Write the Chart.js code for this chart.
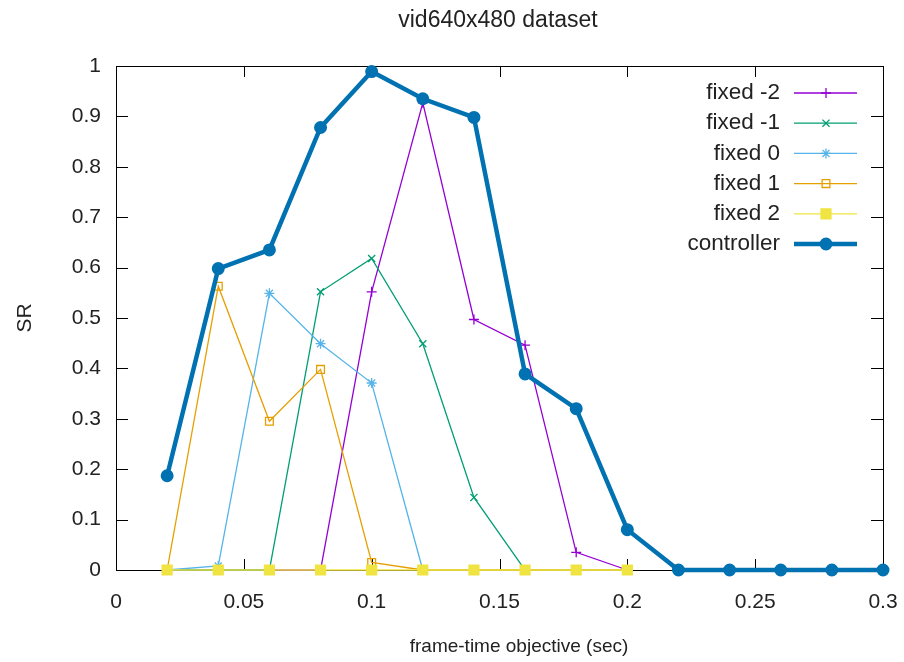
<!DOCTYPE html>
<html>
<head>
<meta charset="utf-8">
<script src="https://cdn.jsdelivr.net/npm/chart.js@4/dist/chart.umd.min.js"></script>
<style>
  html, body { margin: 0; padding: 0; background: #fff; }
  #wrap { width: 904px; height: 662px; }
</style>
</head>
<body>
<div id="wrap"><canvas id="grafico_sr" width="904" height="662"></canvas></div>
<script>
// frame-time objectives (sec)
const fixedX = [0.02, 0.04, 0.06, 0.08, 0.10, 0.12, 0.14, 0.16, 0.18, 0.20]
const ctrlX  = [0.02, 0.04, 0.06, 0.08, 0.10, 0.12, 0.14, 0.16, 0.18, 0.20, 0.22, 0.24, 0.26, 0.28, 0.30]

// success rate per configuration
const fixedM2 = [0, 0, 0, 0, 0.552, 0.927, 0.497, 0.446, 0.035, 0]
const fixedM1 = [0, 0, 0, 0.552, 0.618, 0.449, 0.144, 0, 0, 0]
const fixed0  = [0, 0.008, 0.549, 0.449, 0.371, 0, 0, 0, 0, 0]
const fixed1  = [0, 0.563, 0.295, 0.398, 0.015, 0, 0, 0, 0, 0]
const fixed2  = [0, 0, 0, 0, 0, 0, 0, 0, 0, 0]
const controller = [0.187, 0.598, 0.635, 0.878, 0.989, 0.935, 0.898, 0.389, 0.320, 0.080, 0, 0, 0, 0, 0]

const xTicks = [0, 0.05, 0.1, 0.15, 0.2, 0.25, 0.3]
const xTickLabels = ['0', '0.05', '0.1', '0.15', '0.2', '0.25', '0.3']
const yTicks = [0, 0.1, 0.2, 0.3, 0.4, 0.5, 0.6, 0.7, 0.8, 0.9, 1]
const yTickLabels = ['0', '0.1', '0.2', '0.3', '0.4', '0.5', '0.6', '0.7', '0.8', '0.9', '1']

const FONT = '"Liberation Sans", Arial, sans-serif'

function pontos(xs, ys) {
  return ys.map((y, i) => ({ x: xs[i], y: y }))
}

function serie(label, xs, ys, cor, estilo, raio, fundo, largura, ordem) {
  return {
    label: label,
    data: pontos(xs, ys),
    borderColor: cor,
    backgroundColor: fundo,
    borderWidth: largura,
    pointStyle: estilo,
    pointRadius: raio,
    pointBorderColor: cor,
    pointBackgroundColor: fundo,
    pointBorderWidth: largura > 2 ? 2 : 1.3,
    tension: 0,
    clip: false,
    order: ordem
  }
}

const datasets = [
  serie('fixed -2', fixedX, fixedM2, '#9400d3', 'cross', 5, '#9400d3', 1.3, 5),
  serie('fixed -1', fixedX, fixedM1, '#009e73', 'crossRot', 5, '#009e73', 1.3, 4),
  serie('fixed 0', fixedX, fixed0, '#56b4e9', 'star', 5, '#56b4e9', 1.3, 3),
  serie('fixed 1', fixedX, fixed1, '#e69f00', 'rect', 5.5, 'rgba(255,255,255,0)', 1.3, 2),
  serie('fixed 2', fixedX, fixed2, '#f0e442', 'rect', 7, '#f0e442', 1.3, 1),
  serie('controller', ctrlX, controller, '#0072b2', 'circle', 5.5, '#0072b2', 4.5, 0)
]

// moldura com marcas para dentro (estilo gnuplot)
const moldura = {
  id: 'moldura',
  beforeDatasetsDraw(chart) {
    const { ctx, chartArea: a, scales } = chart
    ctx.save()
    ctx.strokeStyle = '#000'
    ctx.lineWidth = 1
    ctx.beginPath()
    ctx.rect(a.left + 0.5, a.top + 0.5, a.right - a.left, a.bottom - a.top)
    xTicks.forEach((v) => {
      const px = Math.round(scales.x.getPixelForValue(v)) + 0.5
      ctx.moveTo(px, a.bottom); ctx.lineTo(px, a.bottom - 11)
      ctx.moveTo(px, a.top); ctx.lineTo(px, a.top + 11)
    })
    yTicks.forEach((v) => {
      const py = Math.round(scales.y.getPixelForValue(v)) + 0.5
      ctx.moveTo(a.left, py); ctx.lineTo(a.left + 12, py)
      ctx.moveTo(a.right, py); ctx.lineTo(a.right - 12, py)
    })
    ctx.stroke()
    ctx.restore()
  },
  afterDraw(chart) {
    const { ctx, chartArea: a } = chart
    ctx.save()
    ctx.fillStyle = '#222'
    ctx.textAlign = 'center'
    ctx.textBaseline = 'middle'
    ctx.font = '23px ' + FONT
    ctx.fillText('vid640x480 dataset', 498, 21)
    ctx.font = '19px ' + FONT
    ctx.fillText('frame-time objective (sec)', 519, 647)
    ctx.font = '21px ' + FONT
    ctx.translate(25, (a.top + a.bottom) / 2)
    ctx.rotate(-Math.PI / 2)
    ctx.fillText('SR', 0, 0)
    ctx.restore()

    // legenda: texto alinhado a direita, amostra da linha a direita
    ctx.save()
    ctx.font = '22.5px ' + FONT
    ctx.textAlign = 'right'
    ctx.textBaseline = 'middle'
    chart.data.datasets.forEach((ds, i) => {
      const y = 93 + i * 30.2
      ctx.fillStyle = '#222'
      ctx.fillText(ds.label, 780, y)
      ctx.strokeStyle = ds.borderColor
      ctx.lineWidth = ds.borderWidth
      ctx.beginPath()
      ctx.moveTo(794, y); ctx.lineTo(857, y)
      ctx.stroke()
      ctx.fillStyle = ds.pointBackgroundColor
      ctx.lineWidth = ds.pointBorderWidth
      Chart.helpers.drawPoint(ctx, {
        pointStyle: ds.pointStyle,
        radius: ds.pointRadius,
        rotation: 0,
        borderWidth: ds.pointBorderWidth
      }, 826, y)
    })
    ctx.restore()
  }
}

const ctx = document.getElementById('grafico_sr').getContext('2d')
const grafico = new Chart(ctx, {
  type: 'line',
  data: { datasets: datasets },
  plugins: [moldura],
  options: {
    responsive: false,
    animation: false,
    layout: { padding: { top: 66, right: 21, left: 0, bottom: 0 } },
    plugins: {
      legend: { display: false },
      title: { display: false },
      tooltip: { enabled: false }
    },
    scales: {
      x: {
        type: 'linear',
        min: 0,
        max: 0.3,
        afterFit: (s) => { s.height = 92; s.paddingLeft = 0; s.paddingRight = 0 },
        afterBuildTicks: (s) => { s.ticks = xTicks.map((v) => ({ value: v })) },
        grid: { display: false, drawTicks: false },
        border: { display: false },
        ticks: {
          padding: 20,
          color: '#222',
          font: { family: FONT, size: 21 },
          maxRotation: 0,
          callback: (v, i) => xTickLabels[i]
        }
      },
      y: {
        type: 'linear',
        min: 0,
        max: 1,
        afterFit: (s) => { s.width = 116; s.paddingTop = 0; s.paddingBottom = 0 },
        afterBuildTicks: (s) => { s.ticks = yTicks.map((v) => ({ value: v })) },
        grid: { display: false, drawTicks: false },
        border: { display: false },
        ticks: {
          padding: 15,
          color: '#222',
          font: { family: FONT, size: 21 },
          callback: (v, i) => yTickLabels[i]
        }
      }
    }
  }
})
</script>
</body>
</html>
